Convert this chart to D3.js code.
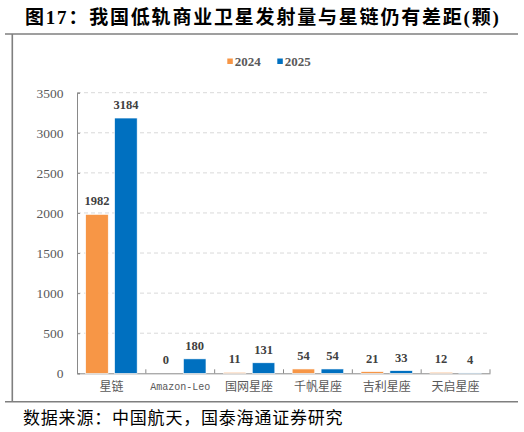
<!DOCTYPE html>
<html lang="zh-CN">
<head>
    <meta charset="UTF-8">
    <title>我国低轨商业卫星发射量与星链仍有差距</title>
    <script src="https://cdnjs.cloudflare.com/ajax/libs/d3/7.8.5/d3.min.js"></script>
    <style>
        body { margin: 0; background: #fff; }
        svg { display: block; }
    </style>
</head>
<body>
<svg id="chart" width="524" height="432"></svg>

<script>
    const categories = ["星链", "Amazon-Leo", "国网星座", "千帆星座", "吉利星座", "天启星座"];
    const seriesNames = ["2024", "2025"];
    const values2024 = [1982, 0, 11, 54, 21, 12];
    const values2025 = [3184, 180, 131, 54, 33, 4];
    const yTicks = [0, 500, 1000, 1500, 2000, 2500, 3000, 3500];
    const seriesColors = ["#F79646", "#0070C0"];

    const titleText = "图17：我国低轨商业卫星发射量与星链仍有差距(颗)";
    const sourceText = "数据来源：中国航天，国泰海通证券研究";

    const serif = "'Liberation Serif', 'Noto Sans CJK SC', serif";
    const svg = d3.select("#chart");

    const plot = { left: 77, right: 490, top: 92.7, bottom: 373.3 };

    // frame: title rule, left rule, bottom rule
    svg.append("line").attr("x1", 5).attr("x2", 518).attr("y1", 34).attr("y2", 34)
        .attr("stroke", "#7F7F7F").attr("stroke-width", 1.6);
    svg.append("line").attr("x1", 12.3).attr("x2", 12.3).attr("y1", 34).attr("y2", 401.7)
        .attr("stroke", "#7F7F7F").attr("stroke-width", 1.6);
    svg.append("line").attr("x1", 5).attr("x2", 518).attr("y1", 401.7).attr("y2", 401.7)
        .attr("stroke", "#7F7F7F").attr("stroke-width", 1.6);

    svg.append("text")
        .attr("x", 25).attr("y", 24)
        .attr("font-family", serif).attr("font-weight", "bold")
        .attr("font-size", 19).attr("letter-spacing", 1.8)
        .attr("fill", "#000")
        .text(titleText);

    svg.append("text")
        .attr("x", 23).attr("y", 424)
        .attr("font-family", "'Noto Sans CJK SC', sans-serif")
        .attr("font-size", 17).attr("letter-spacing", 0.8)
        .attr("fill", "#000")
        .text(sourceText);

    const x = d3.scaleBand().domain(categories).range([plot.left, plot.right]);
    const xSub = d3.scaleBand().domain(seriesNames).range([0, x.bandwidth()])
        .paddingInner(0.22).paddingOuter(0.3);
    const y = d3.scaleLinear().domain([0, 3500]).range([plot.bottom, plot.top]);

    // gridlines
    svg.append("g")
        .selectAll("line")
        .data(yTicks.slice(1))
        .enter()
        .append("line")
        .attr("x1", plot.left).attr("x2", plot.right)
        .attr("y1", d => y(d)).attr("y2", d => y(d))
        .attr("stroke", "#D9D9D9").attr("stroke-dasharray", "4,3");

    // y axis
    const yAxis = svg.append("g")
        .attr("transform", `translate(${plot.left},0)`)
        .call(d3.axisLeft(y).tickValues(yTicks).tickSize(-3).tickPadding(13.5).tickFormat(d3.format("d")));
    yAxis.select(".domain").attr("stroke", "#898989");
    yAxis.selectAll(".tick line").attr("stroke", "#898989");
    yAxis.selectAll("text").attr("font-family", serif).attr("font-size", 13.5).attr("fill", "#595959");

    // x axis
    const xAxis = svg.append("g")
        .attr("transform", `translate(0,${plot.bottom})`)
        .call(d3.axisBottom(x).tickSize(0).tickPadding(9.5).tickSizeOuter(0));
    xAxis.select(".domain").attr("stroke", "#898989");
    xAxis.selectAll("text")
        .attr("font-family", d => d === "Amazon-Leo" ? "'Liberation Mono', monospace" : "'Noto Sans CJK SC', sans-serif")
        .attr("font-size", d => d === "Amazon-Leo" ? 10 : 12)
        .attr("fill", "#595959");

    const boundaries = categories.slice(1).map(c => x(c)).concat([plot.right]);
    svg.append("g")
        .selectAll("line")
        .data(boundaries)
        .enter()
        .append("line")
        .attr("x1", d => d).attr("x2", d => d)
        .attr("y1", plot.bottom).attr("y2", plot.bottom - 4)
        .attr("stroke", "#898989");

    // bars
    const rows = categories.map((c, i) => ({ category: c, values: [values2024[i], values2025[i]] }));
    const groups = svg.append("g")
        .selectAll("g")
        .data(rows)
        .enter()
        .append("g")
        .attr("transform", d => `translate(${x(d.category)},0)`);

    const cells = groups.selectAll("g")
        .data(d => d.values.map((v, i) => ({ series: seriesNames[i], value: v, color: seriesColors[i] })))
        .enter()
        .append("g");

    cells.append("rect")
        .attr("x", d => xSub(d.series))
        .attr("width", xSub.bandwidth())
        .attr("y", d => y(d.value))
        .attr("height", d => plot.bottom - y(d.value))
        .attr("fill", d => d.color)
        .attr("stroke", "#fff").attr("stroke-width", 0.6);

    cells.append("text")
        .attr("x", d => xSub(d.series) + xSub.bandwidth() / 2)
        .attr("y", d => y(d.value) - 9)
        .attr("text-anchor", "middle")
        .attr("font-family", serif).attr("font-weight", "bold")
        .attr("font-size", 12.5).attr("fill", "#404040")
        .text(d => d.value);

    // legend
    const legend = svg.append("g")
        .selectAll("g")
        .data(seriesNames)
        .enter()
        .append("g")
        .attr("transform", (d, i) => `translate(${227.3 + i * 50},0)`);
    legend.append("rect")
        .attr("x", 0).attr("y", 58.5).attr("width", 5.5).attr("height", 5.5)
        .attr("fill", (d, i) => seriesColors[i]);
    legend.append("text")
        .attr("x", 7.5).attr("y", 66)
        .attr("font-family", serif).attr("font-weight", "bold")
        .attr("font-size", 13).attr("fill", "#595959")
        .text(d => d);
</script>
</body>
</html>
